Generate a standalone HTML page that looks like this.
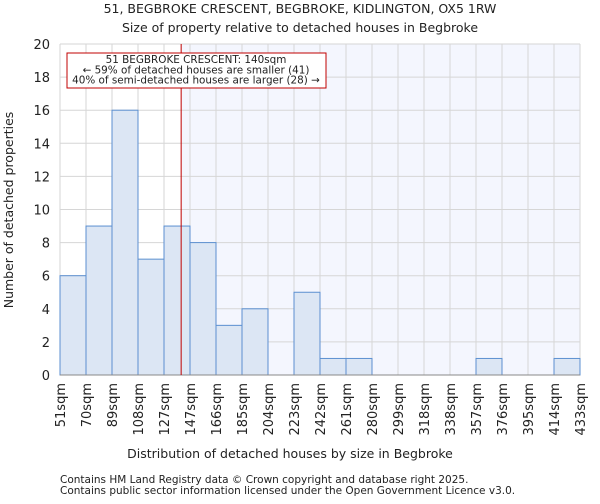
<!DOCTYPE html>
<html><head><meta charset="utf-8"><style>
body{margin:0;background:#fff;font-family:"DejaVu Sans","Liberation Sans",sans-serif;}
text{font-family:"DejaVu Sans","Liberation Sans",sans-serif;fill:#222;}
</style></head><body>
<svg id="c" width="600" height="500">
<text x="300" y="13" font-size="12.5" text-anchor="middle">51, BEGBROKE CRESCENT, BEGBROKE, KIDLINGTON, OX5 1RW</text>
<text x="300" y="32" font-size="12.5" text-anchor="middle">Size of property relative to detached houses in Begbroke</text>
<g id="plot"></g>
<text x="290" y="458" font-size="12.5" text-anchor="middle">Distribution of detached houses by size in Begbroke</text>
<text transform="translate(13,210) rotate(-90)" font-size="12.5" text-anchor="middle">Number of detached properties</text>
<text x="60" y="483" font-size="10.5">Contains HM Land Registry data © Crown copyright and database right 2025.</text>
<text x="60" y="494" font-size="10.5">Contains public sector information licensed under the Open Government Licence v3.0.</text>
</svg>
<script>
const categories=["51sqm","70sqm","89sqm","108sqm","127sqm","147sqm","166sqm","185sqm","204sqm","223sqm","242sqm","261sqm","280sqm","299sqm","318sqm","338sqm","357sqm","376sqm","395sqm","414sqm","433sqm"];
const counts=[6,9,16,7,9,8,3,4,0,5,1,1,0,0,0,0,1,0,0,1];
const yTicks=[0,2,4,6,8,10,12,14,16,18,20];
const binStart=51, binStep=19.1, markerValue=140;
const L=60,R=580,T=44,B=375,yMax=20;
const ns="http://www.w3.org/2000/svg";
const g=document.getElementById('plot');
const bw=(R-L)/counts.length;
const xs=v=>L+(v-binStart)/binStep*bw;
const ys=v=>B-(v/yMax)*(B-T);
function mk(t,a){const e=document.createElementNS(ns,t);for(const k in a)e.setAttribute(k,a[k]);g.appendChild(e);return e;}
const mx=xs(markerValue);
let e=mk('rect',{x:mx,y:T,width:R-mx,height:B-T,fill:'#f4f6fe'});


yTicks.forEach(t=>{let l=mk('line',{x1:L,x2:R,y1:ys(t),y2:ys(t),stroke:'#d6d6d6'});


let tx=mk('text',{x:L-10,y:ys(t)+5,'font-size':13,'text-anchor':'end'});tx.textContent=t;

});
categories.forEach((c,i)=>{const x=L+i*bw;let l=mk('line',{x1:x,x2:x,y1:T,y2:B,stroke:'#d6d6d6'});


let tx=mk('text',{transform:`translate(${x+5},${B+8}) rotate(-90)`,'font-size':13,'text-anchor':'end'});tx.textContent=c;

});
counts.forEach((v,i)=>{if(!v)return;const x=L+i*bw;let r=mk('rect',{x:x,y:ys(v),width:bw,height:B-ys(v),fill:'#dce6f4',stroke:'#5b8fd0','stroke-width':1});

});
let ax=mk('line',{x1:L,x2:R,y1:B,y2:B,stroke:'#888'});


let ml=mk('line',{x1:mx,x2:mx,y1:T,y2:B,stroke:'#c00000','stroke-width':1});


let bx=mk('rect',{x:67,y:53,width:259,height:35,fill:'#fff',stroke:'#c00000'});


["51 BEGBROKE CRESCENT: 140sqm","← 59% of detached houses are smaller (41)","40% of semi-detached houses are larger (28) →"].forEach((s,i)=>{let t=mk('text',{x:196,y:63+i*10.3,'font-size':10.4,'text-anchor':'middle'});t.textContent=s;

});
</script>
</body></html>
